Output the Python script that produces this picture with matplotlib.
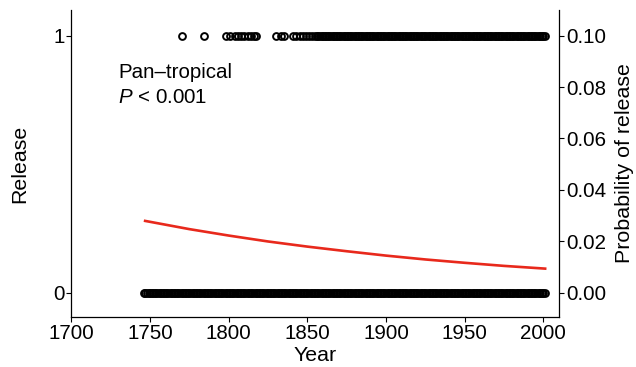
import matplotlib
matplotlib.use("Agg")
import matplotlib.pyplot as plt

# ---- data ----
# years of records with Release = 1
one_years = [1770, 1784, 1798, 1801, 1804, 1806, 1808, 1810, 1812, 1814, 1816, 1817,
             1830, 1833, 1835, 1841, 1843, 1845, 1847, 1849, 1851, 1853,
             1855, 1856, 1857, 1858, 1859,
             1860, 1861, 1862, 1863, 1864, 1865, 1866, 1867, 1868, 1869,
             1870, 1871, 1872, 1873, 1874, 1875, 1876, 1877, 1878, 1879,
             1880, 1881, 1882, 1883, 1884, 1885, 1886, 1887, 1888, 1889,
             1890, 1891, 1892, 1893, 1894, 1895, 1896, 1897, 1898, 1899,
             1900, 1901, 1902, 1903, 1904, 1905, 1906, 1907, 1908, 1909,
             1910, 1911, 1912, 1913, 1914, 1915, 1916, 1917, 1918, 1919,
             1920, 1921, 1922, 1923, 1924, 1925, 1926, 1927, 1928, 1929,
             1930, 1931, 1932, 1933, 1934, 1935, 1936, 1937, 1938, 1939,
             1940, 1941, 1942, 1943, 1944, 1945, 1946, 1947, 1948, 1949,
             1950, 1951, 1952, 1953, 1954, 1955, 1956, 1957, 1958, 1959,
             1960, 1961, 1962, 1963, 1964, 1965, 1966, 1967, 1968, 1969,
             1970, 1971, 1972, 1973, 1974, 1975, 1976, 1977, 1978, 1979,
             1980, 1981, 1982, 1983, 1984, 1985, 1986, 1987, 1988, 1989,
             1990, 1991, 1992, 1993, 1994, 1995, 1996, 1997, 1998, 1999,
             2000, 2001]

# years of records with Release = 0
zero_years = [1746, 1747, 1748, 1749,
              1750, 1751, 1752, 1753, 1754, 1755, 1756, 1757, 1758, 1759,
              1760, 1761, 1762, 1763, 1764, 1765, 1766, 1767, 1768, 1769,
              1770, 1771, 1772, 1773, 1774, 1775, 1776, 1777, 1778, 1779,
              1780, 1781, 1782, 1783, 1784, 1785, 1786, 1787, 1788, 1789,
              1790, 1791, 1792, 1793, 1794, 1795, 1796, 1797, 1798, 1799,
              1800, 1801, 1802, 1803, 1804, 1805, 1806, 1807, 1808, 1809,
              1810, 1811, 1812, 1813, 1814, 1815, 1816, 1817, 1818, 1819,
              1820, 1821, 1822, 1823, 1824, 1825, 1826, 1827, 1828, 1829,
              1830, 1831, 1832, 1833, 1834, 1835, 1836, 1837, 1838, 1839,
              1840, 1841, 1842, 1843, 1844, 1845, 1846, 1847, 1848, 1849,
              1850, 1851, 1852, 1853, 1854, 1855, 1856, 1857, 1858, 1859,
              1860, 1861, 1862, 1863, 1864, 1865, 1866, 1867, 1868, 1869,
              1870, 1871, 1872, 1873, 1874, 1875, 1876, 1877, 1878, 1879,
              1880, 1881, 1882, 1883, 1884, 1885, 1886, 1887, 1888, 1889,
              1890, 1891, 1892, 1893, 1894, 1895, 1896, 1897, 1898, 1899,
              1900, 1901, 1902, 1903, 1904, 1905, 1906, 1907, 1908, 1909,
              1910, 1911, 1912, 1913, 1914, 1915, 1916, 1917, 1918, 1919,
              1920, 1921, 1922, 1923, 1924, 1925, 1926, 1927, 1928, 1929,
              1930, 1931, 1932, 1933, 1934, 1935, 1936, 1937, 1938, 1939,
              1940, 1941, 1942, 1943, 1944, 1945, 1946, 1947, 1948, 1949,
              1950, 1951, 1952, 1953, 1954, 1955, 1956, 1957, 1958, 1959,
              1960, 1961, 1962, 1963, 1964, 1965, 1966, 1967, 1968, 1969,
              1970, 1971, 1972, 1973, 1974, 1975, 1976, 1977, 1978, 1979,
              1980, 1981, 1982, 1983, 1984, 1985, 1986, 1987, 1988, 1989,
              1990, 1991, 1992, 1993, 1994, 1995, 1996, 1997, 1998, 1999,
              2000, 2001]

# fitted probability of release (right axis)
curve_years = [1746, 1775, 1800, 1825, 1850, 1875, 1900, 1925, 1950, 1975, 2002]
curve_prob = [0.0280, 0.0247, 0.0222, 0.0199, 0.0179, 0.0161, 0.0144, 0.0129, 0.0116, 0.0104, 0.0093]

x_ticks = [1700, 1750, 1800, 1850, 1900, 1950, 2000]
left_ticks = [0, 1]
right_ticks = [0.00, 0.02, 0.04, 0.06, 0.08, 0.10]
right_tick_labels = ["0.00", "0.02", "0.04", "0.06", "0.08", "0.10"]

# ---- style ----
plt.rcParams["font.family"] = ["Liberation Sans", "DejaVu Sans"]
plt.rcParams["mathtext.fontset"] = "custom"
plt.rcParams["mathtext.rm"] = "Liberation Sans"
plt.rcParams["mathtext.it"] = "Liberation Sans:italic"

fig = plt.figure(figsize=(6.36, 3.67), dpi=100)
ax = fig.add_axes([0.1124, 0.1362, 0.879 - 0.1124, 0.9728 - 0.1362])
ax2 = ax.twinx()

mk = dict(linestyle="none", marker="o", ms=4.9, mfc="none", mec="black", mew=1.4)
ax.plot(zero_years, [0] * len(zero_years), **mk)
ax.plot(one_years, [1] * len(one_years), **mk)

ax2.plot(curve_years, curve_prob, color="#e8291c", lw=1.9, solid_capstyle="butt")

ax.set_xlim(1700, 2010)
ax.set_ylim(-0.095, 1.1)
ax2.set_ylim(-0.0095, 0.11)

ax.set_xticks(x_ticks)
ax.set_yticks(left_ticks)
ax2.set_yticks(right_ticks)
ax2.set_yticklabels(right_tick_labels)

fs = 14.8
fs_title = 15.4
for a in (ax, ax2):
    a.spines["top"].set_visible(False)
    for s in a.spines.values():
        s.set_linewidth(0.9)
    a.tick_params(axis="both", length=3.5, width=0.8, labelsize=fs, pad=1.5,
                  colors="black")
ax2.spines["left"].set_visible(False)
ax2.spines["bottom"].set_visible(False)
ax.spines["right"].set_visible(False)

ax.set_xlabel("Year", fontsize=fs_title, labelpad=2)
ax.set_ylabel("Release", fontsize=fs_title, labelpad=17)
ax2.set_ylabel("Probability of release", fontsize=fs_title, labelpad=6.5)

ax.text(1729.5, 0.855, "Pan\u2013tropical", fontsize=fs, va="center", ha="left")
ax.text(1729.5, 0.76, r"$P$ < 0.001", fontsize=fs, va="center", ha="left")

fig.savefig("out.png", dpi=100)
